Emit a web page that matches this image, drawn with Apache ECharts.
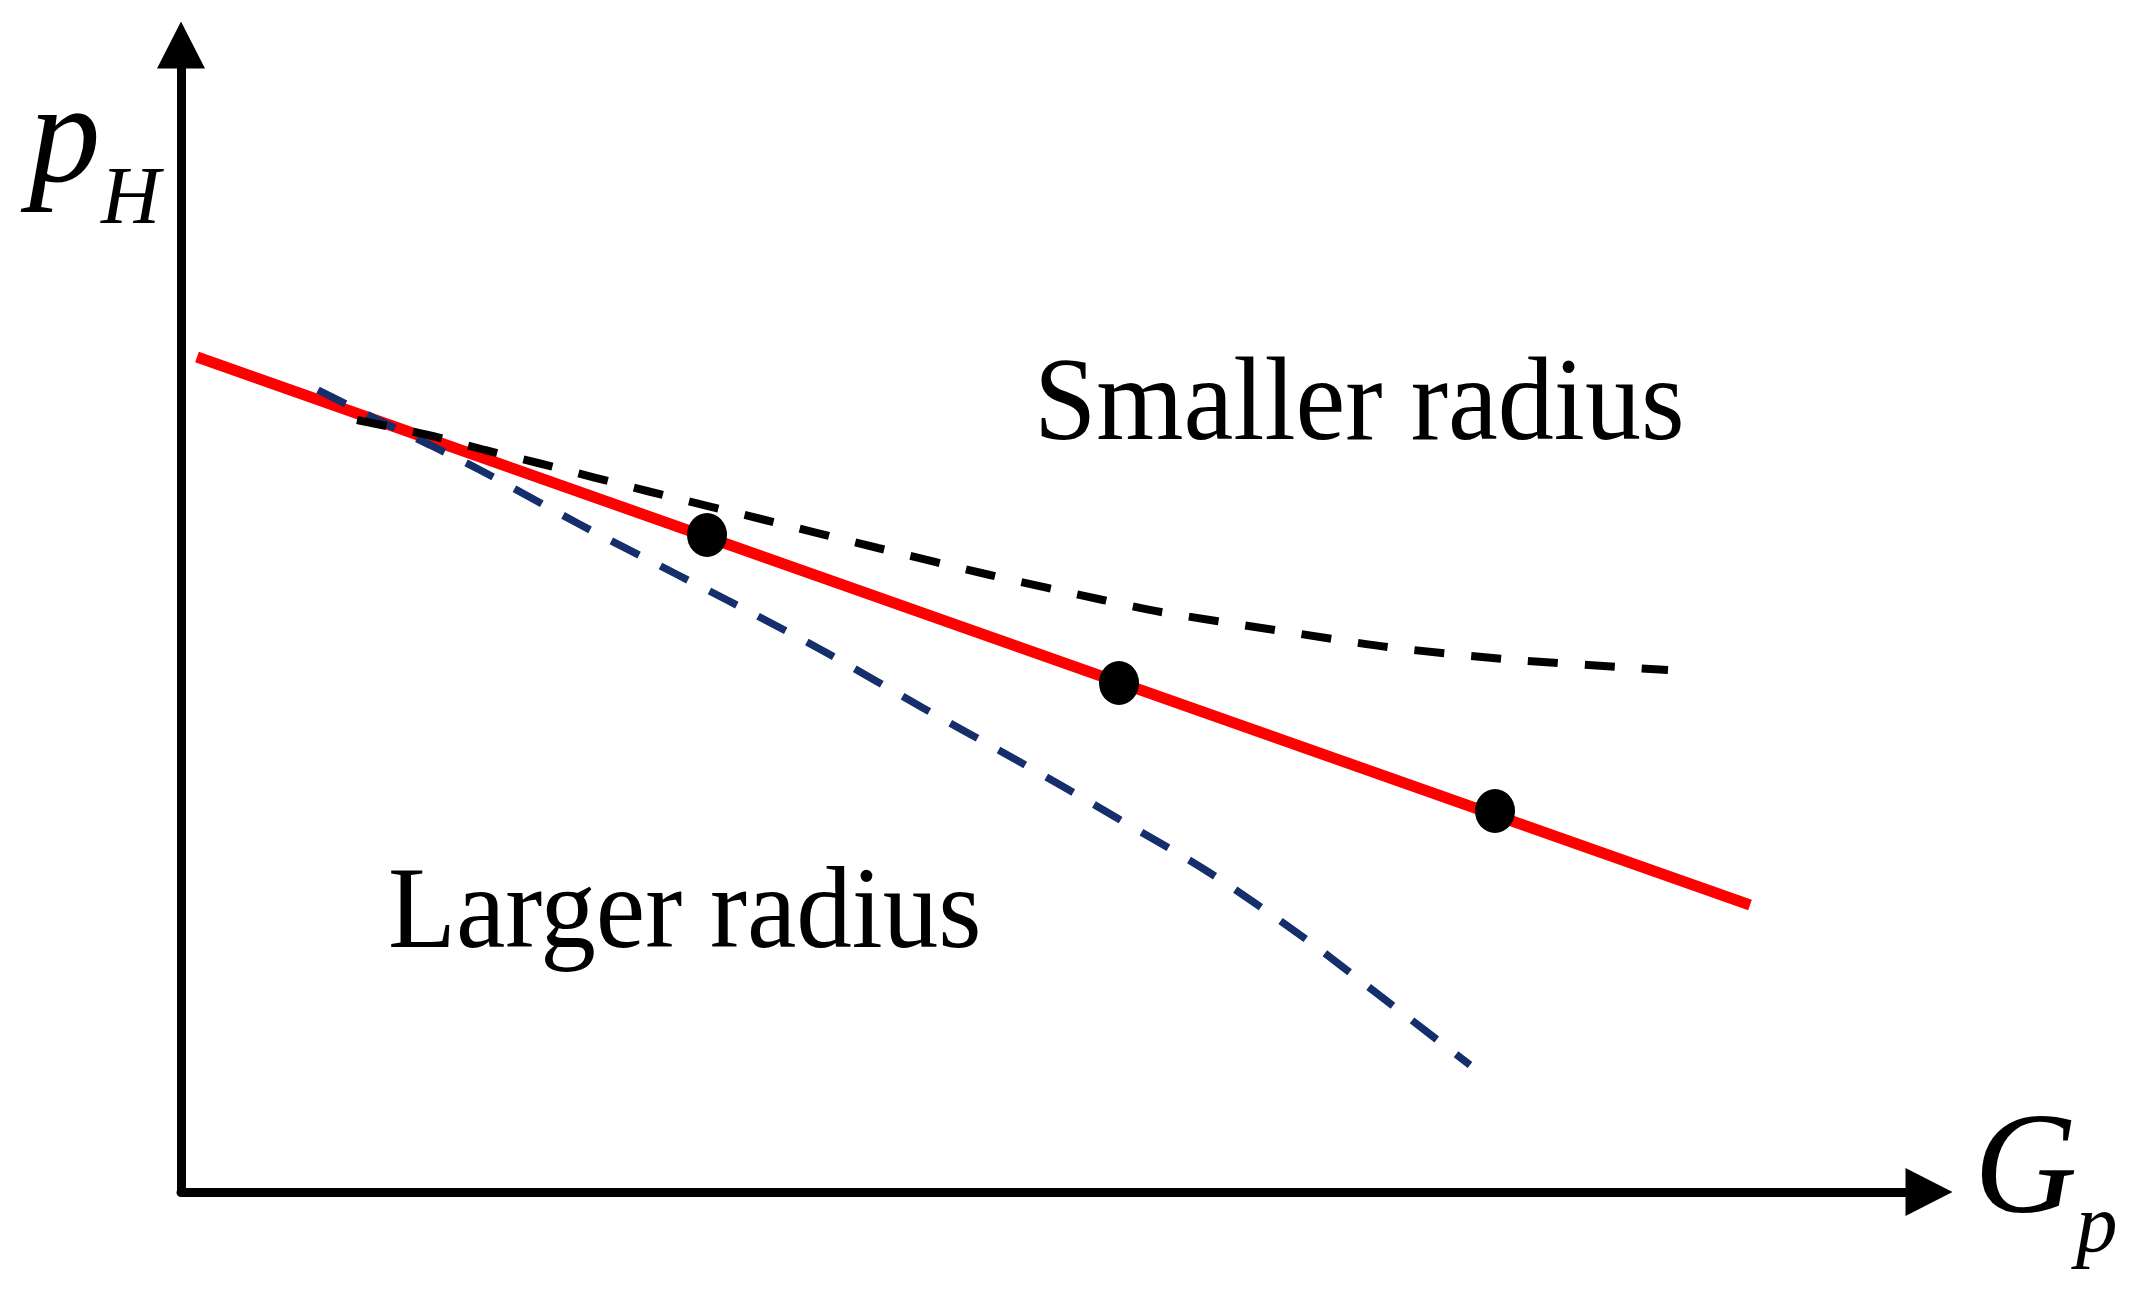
<!DOCTYPE html>
<html>
<head>
<meta charset="utf-8">
<script src="https://cdn.jsdelivr.net/npm/echarts@6/dist/echarts.min.js"></script>
<style>
html,body{margin:0;padding:0;background:#ffffff;}
#chart{width:2135px;height:1298px;}
</style>
</head>
<body>
<div id="chart"></div>
<script>
// Straight operating line (red)
const redLine = [[1.6, 83.5], [156.9, 28.7]];
// Smaller radius curve (black dashed)
const smallerRadius = [
  [17.6, 77.2], [24.7, 75.7], [30.4, 74.2], [35.7, 72.9], [47.0, 70.0],
  [58.4, 67.2], [69.7, 64.4], [80.9, 61.7], [92.2, 59.2], [98.0, 58.0],
  [109.4, 56.2], [120.7, 54.5], [132.3, 53.3], [143.9, 52.5], [148.7, 52.2]
];
// Larger radius curve (blue dashed)
const largerRadius = [
  [13.7, 80.2], [19.9, 77.1], [24.9, 74.7], [29.9, 72.2], [39.8, 66.8],
  [49.7, 61.7], [54.6, 59.2], [64.6, 53.9], [74.2, 48.4], [83.9, 43.0],
  [93.6, 37.4], [102.9, 31.9], [112.6, 25.2], [121.1, 18.7], [128.9, 12.7]
];
// Marked points on the red line
const operatingPoints = [[52.6, 65.7], [93.8, 50.9], [131.4, 38.1]];
// Text annotations
const textSmaller = 'Smaller radius';
const textLarger = 'Larger radius';
const yName = ['p', 'H'];
const xName = ['G', 'p'];

const FONT = "'Liberation Serif', 'Times New Roman', serif";

const chart = echarts.init(document.getElementById('chart'), null, {renderer: 'canvas'});

const axisCommon = {
  type: 'value',
  min: 0,
  axisLine: {
    show: true,
    onZero: false,
    symbol: ['none', 'triangle'],
    symbolSize: [48, 47],
    lineStyle: {color: '#000000', width: 9}
  },
  axisTick: {show: false},
  axisLabel: {show: false},
  splitLine: {show: false}
};

const option = {
  backgroundColor: '#ffffff',
  animation: false,
  grid: {left: 181, top: 45, right: 206, bottom: 106, containLabel: false},
  xAxis: Object.assign({}, axisCommon, {max: 174.8}),
  yAxis: Object.assign({}, axisCommon, {max: 114.7}),
  series: [
    {
      type: 'line',
      data: redLine,
      showSymbol: false,
      lineStyle: {color: '#ff0000', width: 11, cap: 'butt'},
      z: 2
    },
    {
      type: 'line',
      data: largerRadius,
      showSymbol: false,
      smooth: 0.3,
      lineStyle: {color: '#142f6b', width: 7.5, type: [31, 24], cap: 'butt'},
      z: 3
    },
    {
      type: 'line',
      data: smallerRadius,
      showSymbol: false,
      smooth: 0.3,
      lineStyle: {color: '#000000', width: 8, type: [30, 27], cap: 'butt'},
      z: 3
    },
    {
      type: 'scatter',
      data: operatingPoints,
      symbol: 'circle',
      symbolSize: [40, 44],
      itemStyle: {color: '#000000', opacity: 1},
      z: 4
    }
  ],
  graphic: [
    {
      type: 'text', x: 1034, y: 408, scaleX: 0.95,
      style: {text: textSmaller, x: 0, y: 0, fill: '#000', font: '118px ' + FONT, align: 'left', verticalAlign: 'middle'}
    },
    {
      type: 'text', x: 388, y: 916, scaleX: 0.95,
      style: {text: textLarger, x: 0, y: 0, fill: '#000', font: '117px ' + FONT, align: 'left', verticalAlign: 'middle'}
    },
    {
      type: 'text', x: 29, y: 143,
      style: {text: yName[0], x: 0, y: 0, fill: '#000', font: 'italic 143px ' + FONT, align: 'left', verticalAlign: 'middle'}
    },
    {
      type: 'text', x: 101, y: 201,
      style: {text: yName[1], x: 0, y: 0, fill: '#000', font: 'italic 82px ' + FONT, align: 'left', verticalAlign: 'middle'}
    },
    {
      type: 'text', x: 1974, y: 1174,
      style: {text: xName[0], x: 0, y: 0, fill: '#000', font: 'italic 143px ' + FONT, align: 'left', verticalAlign: 'middle'}
    },
    {
      type: 'text', x: 2076, y: 1229,
      style: {text: xName[1], x: 0, y: 0, fill: '#000', font: 'italic 83px ' + FONT, align: 'left', verticalAlign: 'middle'}
    }
  ]
};

chart.setOption(option);
</script>
</body>
</html>
